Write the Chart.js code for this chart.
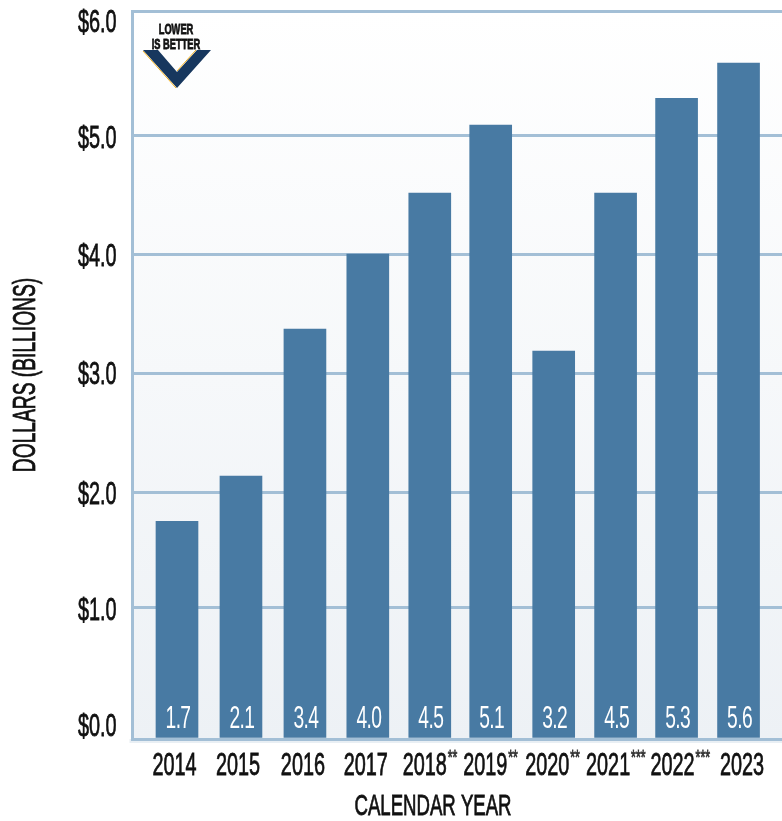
<!DOCTYPE html>
<html>
<head>
<meta charset="utf-8">
<style>
  html, body { margin: 0; padding: 0; background: #fff; }
  canvas { display: block; }
</style>
<script src="https://cdn.jsdelivr.net/npm/chart.js@4"></script>
</head>
<body>
<canvas id="chart" width="782" height="821"></canvas>
<script>
const years = ['2014', '2015', '2016', '2017', '2018', '2019', '2020', '2021', '2022', '2023'];
const footnotes = ['', '', '', '', '**', '**', '**', '***', '***', ''];
const dollars = [1.75, 2.14, 3.37, 4.0, 4.515, 5.085, 3.187, 4.515, 5.3, 5.583];
const valueLabels = ['1.7', '2.1', '3.4', '4.0', '4.5', '5.1', '3.2', '4.5', '5.3', '5.6'];
const yTicks = [0, 1, 2, 3, 4, 5, 6];

const FONT = '"Liberation Sans", sans-serif';
const SQUEEZE = 0.62;
const GRID = '#a3bfd6';
const BAR = '#487aa3';

// the printed axes are not evenly spaced: gridlines and bar centres sit at these shares of each axis
const yStops = [0, 0.1809, 0.3383, 0.5023, 0.6662, 0.8287, 1];
const xStops = [0.0685, 0.167, 0.2655, 0.3623, 0.4577, 0.5515, 0.6485, 0.7438, 0.8377, 0.9331];
// the printed labels drift off their ticks
const yLabelShift = [-12, 4, 2, 2, 3, 3, 12];
const xLabelShift = [-2.5, -3, -2, -2, -5, -5.5, -6.5, -7.5, -4, 3.5];

// no condensed face is installed, so all text is squeezed sideways and dark text thickened a little
const ctx = document.getElementById('chart').getContext('2d');
const plainFillText = ctx.fillText;
ctx.fillText = function (text, x, y) {
  this.save();
  this.translate(x, y);
  this.scale(SQUEEZE, 1);
  plainFillText.call(this, text, 0, 0);
  if (this.fillStyle !== '#ffffff') {
    this.strokeStyle = this.fillStyle;
    this.lineWidth = 0.8;
    this.strokeText(text, 0, 0);
  }
  this.restore();
};

function shiftItems(items, shifts, axis) {
  items.forEach((item, i) => {
    const t = item.options.translation;
    item.options.translation = axis === 'x' ? [t[0] + shifts[i], t[1]] : [t[0], t[1] + shifts[i]];
  });
  return items;
}

class PrintedY extends Chart.LinearScale {
  getPixelForValue(value) {
    const i = Math.min(Math.max(Math.floor(value), 0), yStops.length - 2);
    const share = yStops[i] + (value - i) * (yStops[i + 1] - yStops[i]);
    return this.bottom - share * (this.bottom - this.top);
  }
  _computeLabelItems(chartArea) {
    return shiftItems(super._computeLabelItems(chartArea), yLabelShift, 'y');
  }
}
PrintedY.id = 'printedY';
PrintedY.defaults = Chart.LinearScale.defaults;

class PrintedX extends Chart.CategoryScale {
  getPixelForValue(value) {
    const i = typeof value === 'number' ? value : this.parse(value);
    return this.left + xStops[i] * (this.right - this.left);
  }
  _computeLabelItems(chartArea) {
    return shiftItems(super._computeLabelItems(chartArea), xLabelShift, 'x');
  }
}
PrintedX.id = 'printedX';
PrintedX.defaults = Chart.CategoryScale.defaults;

Chart.register(PrintedY, PrintedX);

const panel = {
  id: 'panel',
  beforeDraw(chart) {
    const { ctx, chartArea: a } = chart;
    const fill = ctx.createLinearGradient(0, a.top, 0, a.bottom);
    fill.addColorStop(0, '#ffffff');
    fill.addColorStop(1, '#edf1f5');
    ctx.fillStyle = fill;
    ctx.fillRect(a.left, a.top, a.right - a.left, a.bottom - a.top);
    ctx.fillStyle = '#e9eff4';
    ctx.fillRect(a.left - 3, a.bottom, a.right - a.left + 3, 4);
  },
  afterDatasetsDraw(chart) {
    const { ctx, chartArea: a } = chart;
    ctx.fillStyle = GRID;
    ctx.fillRect(a.left - 1.5, a.bottom - 1, a.right - a.left + 1.5, 3);
  },
  afterDraw(chart) {
    const { ctx, chartArea: a, scales } = chart;
    ctx.save();

    // value labels at the foot of each bar
    ctx.fillStyle = '#ffffff';
    ctx.font = '31px ' + FONT;
    ctx.textAlign = 'center';
    ctx.textBaseline = 'middle';
    ctx.letterSpacing = '-1px';
    chart.getDatasetMeta(0).data.forEach((bar, i) => {
      ctx.fillText(valueLabels[i], bar.x + 1, a.bottom - 20);
    });
    ctx.letterSpacing = '0px';

    // footnote marks next to the years
    ctx.fillStyle = '#333333';
    ctx.font = '20px ' + FONT;
    ctx.textAlign = 'left';
    ctx.textBaseline = 'alphabetic';
    years.forEach((year, i) => {
      if (footnotes[i]) {
        ctx.fillText(footnotes[i], scales.x.getPixelForValue(i) + xLabelShift[i] + 23, a.bottom + 25);
      }
    });

    // axis title, printed left of the axis centre
    ctx.fillStyle = '#111111';
    ctx.font = '30px ' + FONT;
    ctx.textAlign = 'center';
    ctx.textBaseline = 'middle';
    ctx.fillText('CALENDAR YEAR', 433, 807);

    // lower is better flag
    ctx.beginPath();
    ctx.moveTo(143, 50);
    ctx.lineTo(158, 50);
    ctx.lineTo(177, 72);
    ctx.lineTo(197, 50);
    ctx.lineTo(211, 50);
    ctx.lineTo(177, 88);
    ctx.closePath();
    ctx.fillStyle = '#17375e';
    ctx.fill();
    ctx.strokeStyle = '#f2b01e';
    ctx.lineWidth = 1;
    ctx.beginPath();
    ctx.moveTo(143, 51);
    ctx.lineTo(176, 88);
    ctx.moveTo(177, 71);
    ctx.lineTo(196, 50);
    ctx.stroke();
    ctx.fillStyle = '#111111';
    ctx.font = 'bold 15px ' + FONT;
    ctx.fillText('LOWER', 176, 30);
    ctx.fillText('IS BETTER', 176, 45);
    ctx.restore();
  }
};

new Chart(ctx, {
  type: 'bar',
  data: {
    labels: years,
    datasets: [{
      data: dollars,
      backgroundColor: BAR,
      barThickness: 42
    }]
  },
  options: {
    responsive: false,
    animation: false,
    layout: { padding: { top: 11, right: 0, left: 0, bottom: 0 } },
    plugins: { legend: { display: false }, tooltip: { enabled: false } },
    scales: {
      x: {
        type: 'printedX',
        afterFit(scale) { scale.height = 82; scale.paddingLeft = 0; scale.paddingRight = 0; },
        grid: { display: false },
        border: { display: false },
        ticks: {
          autoSkip: false,
          maxRotation: 0,
          minRotation: 0,
          padding: 0,
          color: '#111111',
          font: { family: FONT, size: 32 }
        }
      },
      y: {
        type: 'printedY',
        min: 0,
        max: 6,
        afterFit(scale) { scale.width = 132.5; scale.paddingTop = 0; scale.paddingBottom = 0; },
        afterBuildTicks(scale) { scale.ticks = yTicks.map((v) => ({ value: v })); },
        grid: { color: GRID, lineWidth: 3, tickLength: 0 },
        border: { color: GRID, width: 3 },
        ticks: {
          padding: 16,
          color: '#111111',
          font: { family: FONT, size: 32 },
          callback: (v) => '$' + v.toFixed(1)
        },
        title: {
          display: true,
          text: 'DOLLARS (BILLIONS)',
          color: '#111111',
          font: { family: FONT, size: 31 },
          padding: { top: 8, bottom: 0 }
        }
      }
    }
  },
  plugins: [panel]
});
</script>
</body>
</html>
